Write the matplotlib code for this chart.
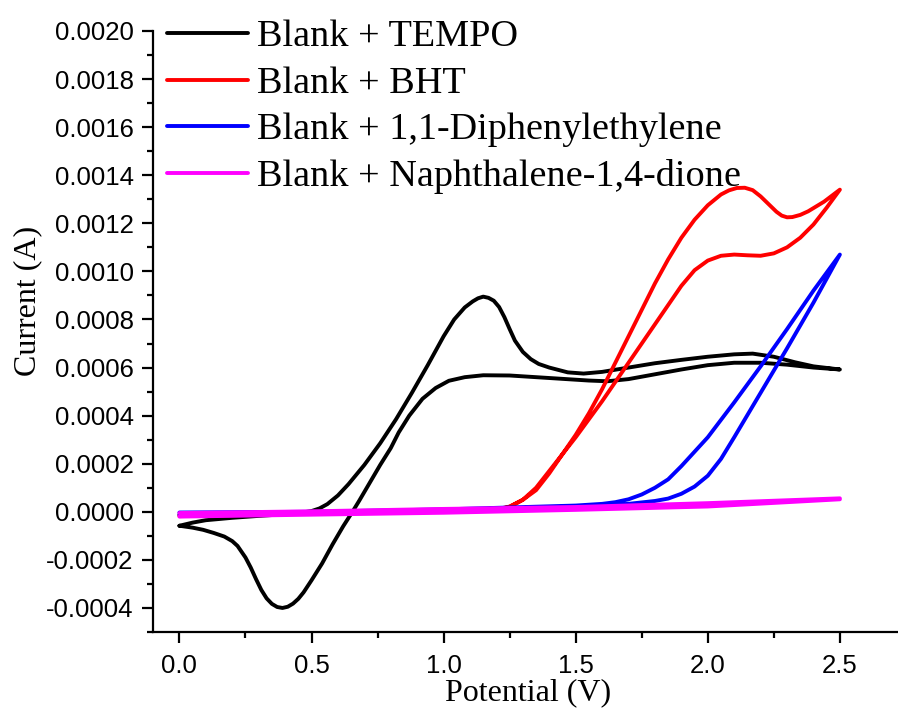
import numpy as np
import matplotlib
matplotlib.use("Agg")
import matplotlib.pyplot as plt
from matplotlib.ticker import MultipleLocator, FuncFormatter

# ---- data (potential in V, current in A) ----
labels = ["Blank + TEMPO", "Blank + BHT",
          "Blank + 1,1-Diphenylethylene", "Blank + Naphthalene-1,4-dione"]
colors = ["black", "#ff0000", "#0000ff", "#ff00ff"]

tempo_fwd_v = [0.00, 0.05, 0.10, 0.20, 0.30, 0.40, 0.46, 0.50, 0.53, 0.56, 0.60,
               0.64, 0.70, 0.76, 0.82, 0.88, 0.94, 1.00, 1.04, 1.08, 1.11, 1.13,
               1.15, 1.17, 1.19, 1.21, 1.23, 1.25, 1.27, 1.30, 1.33, 1.36, 1.40,
               1.47, 1.53, 1.60, 1.70, 1.80, 1.90, 2.00, 2.10, 2.17, 2.25, 2.33,
               2.40, 2.50]
tempo_fwd_i = [-0.000058, -0.000045, -0.000035, -0.000025, -0.000017, -0.000010,
               -0.000004, 0.000003, 0.000014, 0.000032, 0.000068, 0.000115,
               0.000195, 0.000285, 0.000385, 0.000495, 0.000610, 0.000730,
               0.000800, 0.000850, 0.000875, 0.000888, 0.000895, 0.000890,
               0.000878, 0.000852, 0.000810, 0.000760, 0.000712, 0.000665,
               0.000635, 0.000615, 0.000600, 0.000580, 0.000575, 0.000582,
               0.000600, 0.000618, 0.000632, 0.000645, 0.000655, 0.000658,
               0.000645, 0.000622, 0.000605, 0.000592]
tempo_rev_v = [2.50, 2.40, 2.30, 2.20, 2.10, 2.00, 1.90, 1.80, 1.70, 1.62, 1.55,
               1.45, 1.35, 1.25, 1.15, 1.08, 1.02, 0.97, 0.92, 0.87, 0.83, 0.80,
               0.76, 0.72, 0.68, 0.655, 0.62, 0.58, 0.54, 0.50, 0.47, 0.45, 0.43,
               0.41, 0.39, 0.37, 0.35, 0.33, 0.31, 0.29, 0.27, 0.25, 0.22, 0.20,
               0.17, 0.13, 0.09, 0.05, 0.00]
tempo_rev_i = [0.000592, 0.000600, 0.000612, 0.000620, 0.000620, 0.000610,
               0.000592, 0.000572, 0.000552, 0.000543, 0.000546, 0.000553,
               0.000560, 0.000567, 0.000568, 0.000560, 0.000545, 0.000515,
               0.000470, 0.000400, 0.000330, 0.000265, 0.000195, 0.000120,
               0.000045, 0.000000, -0.000060, -0.000135, -0.000215, -0.000285,
               -0.000335, -0.000362, -0.000382, -0.000395, -0.000400, -0.000396,
               -0.000383, -0.000360, -0.000325, -0.000280, -0.000232, -0.000190,
               -0.000142, -0.000122, -0.000103, -0.000088, -0.000075, -0.000066,
               -0.000058]

bht_fwd_v = [0.00, 0.50, 1.00, 1.20, 1.25, 1.30, 1.35, 1.40, 1.45, 1.50, 1.55,
             1.60, 1.65, 1.70, 1.75, 1.80, 1.85, 1.90, 1.95, 2.00, 2.05, 2.08,
             2.11, 2.14, 2.17, 2.20, 2.23, 2.26, 2.28, 2.30, 2.32, 2.35, 2.38,
             2.44, 2.50]
bht_fwd_i = [-0.000018, -0.000008, 0.000002, 0.000010, 0.000022, 0.000050,
             0.000090, 0.000160, 0.000240, 0.000320, 0.000410, 0.000510,
             0.000620, 0.000730, 0.000840, 0.000950, 0.001050, 0.001140,
             0.001215, 0.001275, 0.001320, 0.001337, 0.001347, 0.001348,
             0.001338, 0.001312, 0.001280, 0.001248, 0.001232, 0.001225,
             0.001226, 0.001235, 0.001250, 0.001290, 0.001340]
bht_rev_v = [2.50, 2.45, 2.40, 2.35, 2.30, 2.25, 2.20, 2.15, 2.10, 2.05, 2.00,
             1.95, 1.90, 1.85, 1.80, 1.75, 1.70, 1.65, 1.60, 1.55, 1.50, 1.45,
             1.40, 1.35, 1.30, 1.25, 1.20, 1.00, 0.50, 0.00]
bht_rev_i = [0.001340, 0.001265, 0.001195, 0.001140, 0.001100, 0.001075,
             0.001065, 0.001067, 0.001070, 0.001065, 0.001045, 0.001005,
             0.000940, 0.000860, 0.000780, 0.000700, 0.000620, 0.000540,
             0.000460, 0.000385, 0.000310, 0.000240, 0.000170, 0.000100,
             0.000050, 0.000020, 0.000010, 0.000004, -0.000004, -0.000012]

dpe_fwd_v = [0.00, 0.50, 1.00, 1.50, 1.60, 1.70, 1.80, 1.85, 1.90, 1.95, 2.00,
             2.05, 2.10, 2.20, 2.30, 2.40, 2.50]
dpe_fwd_i = [-0.000012, -0.000003, 0.000007, 0.000022, 0.000028, 0.000033,
             0.000045, 0.000055, 0.000075, 0.000105, 0.000150, 0.000220,
             0.000310, 0.000495, 0.000680, 0.000870, 0.001070]
dpe_rev_v = [2.50, 2.40, 2.30, 2.20, 2.10, 2.00, 1.95, 1.90, 1.85, 1.80, 1.75,
             1.70, 1.65, 1.60, 1.50, 1.00, 0.50, 0.00]
dpe_rev_i = [0.001070, 0.000920, 0.000760, 0.000605, 0.000455, 0.000310,
             0.000250, 0.000190, 0.000135, 0.000100, 0.000072, 0.000052,
             0.000040, 0.000033, 0.000026, 0.000010, 0.000000, -0.000003]

naph_fwd_v = [0.00, 0.50, 1.00, 1.50, 2.00, 2.50]
naph_fwd_i = [-0.000020, -0.000012, -0.000004, 0.000008, 0.000022, 0.000052]
naph_rev_v = [2.50, 2.00, 1.50, 1.00, 0.50, 0.00]
naph_rev_i = [0.000056, 0.000036, 0.000020, 0.000012, 0.000002, -0.000005]

curves = [
    (tempo_fwd_v + tempo_rev_v, tempo_fwd_i + tempo_rev_i),
    (bht_fwd_v + bht_rev_v, bht_fwd_i + bht_rev_i),
    (dpe_fwd_v + dpe_rev_v, dpe_fwd_i + dpe_rev_i),
    (naph_fwd_v + naph_rev_v, naph_fwd_i + naph_rev_i),
]

serif = ["Liberation Serif", "DejaVu Serif"]
sans = ["Liberation Sans", "DejaVu Sans"]

fig = plt.figure(figsize=(8.98, 7.18), dpi=100)
ax = fig.add_axes([153 / 898, 86 / 718, 745 / 898, 601 / 718])

for (v, i), c, lab in zip(curves, colors, labels):
    ax.plot(v, i, color=c, lw=2.8, label=lab, solid_joinstyle="round",
            solid_capstyle="round")

ax.set_xlim(-0.1, 2.72)
ax.set_ylim(-0.0005, 0.0020)

for loc in ["top", "right"]:
    ax.spines[loc].set_visible(False)
for loc in ["left", "bottom"]:
    ax.spines[loc].set_linewidth(1.6)

ax.xaxis.set_major_locator(MultipleLocator(0.5))
ax.xaxis.set_minor_locator(MultipleLocator(0.25))
ax.yaxis.set_major_locator(MultipleLocator(0.0002))
ax.yaxis.set_minor_locator(MultipleLocator(0.0001))
ax.xaxis.set_major_formatter(FuncFormatter(lambda x, p: f"{x:.1f}"))
ax.yaxis.set_major_formatter(
    FuncFormatter(lambda y, p: f"{round(y, 6):.4f}".replace("-0.0000", "0.0000")))

ax.tick_params(which="major", direction="out", length=8, width=1.6)
ax.tick_params(which="minor", direction="out", length=4.5, width=1.6)
ax.tick_params(axis="y", which="major", pad=6)
ax.tick_params(axis="x", which="major", pad=8)
for t in ax.get_xticklabels() + ax.get_yticklabels():
    t.set_family(sans)
    t.set_fontsize(18.5)

ax.set_xlabel("Potential (V)", family=serif, fontsize=23)
ax.set_ylabel("Current (A)", family=serif, fontsize=23)
ax.xaxis.set_label_coords((528 - 153) / 745, (632 - 678) / 601)
ax.yaxis.set_label_coords((42 - 153) / 745, (632 - 301) / 601)

ax.legend(loc="upper left", bbox_to_anchor=((167 - 153) / 745, 1.019),
          frameon=False, borderpad=0, borderaxespad=0, handlelength=2.13,
          handletextpad=0.22, labelspacing=0.31,
          prop={"family": serif, "size": 27.5})

plt.savefig("out.png", dpi=100)
